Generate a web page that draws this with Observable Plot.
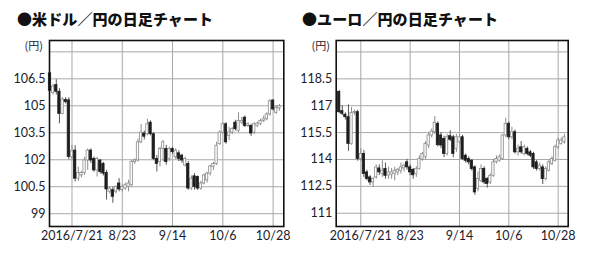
<!DOCTYPE html>
<html><head><meta charset="utf-8">
<script src="https://cdn.jsdelivr.net/npm/d3@7"></script>
<script src="https://cdn.jsdelivr.net/npm/@observablehq/plot@0.6"></script>
<style>
body{margin:0;background:#fff;}
#wrap{position:relative;width:593px;height:268px;overflow:hidden;background:#fff;}
.panel{position:absolute;top:0;}
.title{position:absolute;top:10px;z-index:2;font-family:"Noto Sans CJK JP",sans-serif;font-weight:900;font-size:15px;line-height:18px;color:#111;white-space:nowrap;letter-spacing:0.1px;}
.unit{position:absolute;top:38px;z-index:2;font-family:"Noto Sans CJK JP",sans-serif;font-size:11px;line-height:14px;color:#1c1c2c;}
</style></head><body>
<div id="wrap">
  <div id="p1" class="panel" style="left:0"></div>
  <div id="p2" class="panel" style="left:290px"></div>
  <div class="title" style="left:17px">●米ドル／円の日足チャート</div>
  <div class="title" style="left:302px">●ユーロ／円の日足チャート</div>
  <div class="unit" style="right:550px">(円)</div>
  <div class="unit" style="right:263px">(円)</div>
</div>
<script>
// ---- USD/JPY daily candles ----
const usdOpen  = [106.80,105.72,106.15,105.78,104.55,105.33,105.30,102.14,102.51,100.95,101.13,101.26,101.96,102.51,102.05,101.41,101.96,101.77,101.26,100.22,100.31,100.22,100.68,100.31,100.40,100.49,100.58,101.87,101.96,102.97,103.46,103.42,104.06,103.42,102.05,101.87,102.60,102.60,102.05,102.60,102.14,102.36,102.23,101.68,101.77,100.40,101.08,101.04,100.40,100.68,100.86,101.23,101.59,101.77,102.87,103.51,103.97,103.33,103.51,104.06,103.61,104.06,104.34,103.88,103.88,103.51,103.88,103.97,104.16,104.25,104.52,105.29,104.61,104.85];
const usdHigh  = [106.85,106.20,106.45,105.95,105.45,105.45,105.45,102.80,102.78,101.59,101.35,102.14,102.60,102.60,102.15,102.14,102.00,101.85,101.41,100.50,100.49,100.55,100.95,100.60,100.70,100.86,101.95,102.05,103.15,103.97,103.60,104.25,104.16,103.50,102.23,102.70,103.06,102.80,102.70,102.70,102.60,102.50,102.30,102.15,101.90,101.10,101.23,101.10,100.80,101.20,101.30,101.70,101.85,102.97,103.60,104.06,104.06,103.79,103.79,104.20,104.61,104.34,104.43,104.06,103.97,104.06,104.10,104.25,104.43,104.61,105.35,105.35,104.98,105.07];
const usdLow   = [105.80,105.60,105.60,104.00,104.50,105.10,102.00,101.96,100.77,100.80,101.00,101.13,101.41,101.80,101.30,101.04,101.20,101.10,99.76,100.10,99.58,100.10,100.22,100.20,100.30,100.22,100.50,101.75,101.87,102.90,103.10,103.33,103.33,101.95,101.32,101.60,101.90,101.70,101.90,102.30,102.00,101.90,101.80,101.60,100.30,100.30,100.31,100.30,100.30,100.60,100.70,101.10,101.40,101.68,102.80,103.42,102.87,103.06,103.40,103.60,103.50,103.97,103.79,103.79,103.30,103.40,103.80,103.90,104.06,104.16,104.43,104.71,104.52,104.70];
const usdClose = [105.84,106.07,105.78,104.55,105.35,105.20,102.15,102.47,100.95,101.26,101.26,101.96,102.51,101.96,101.41,102.05,101.32,101.23,100.35,100.40,99.94,100.49,100.35,100.49,100.58,100.68,101.87,101.96,102.97,103.51,103.28,103.97,103.42,102.05,101.77,102.60,102.97,101.87,102.60,102.42,102.51,102.05,101.96,102.05,100.40,100.95,100.49,100.40,100.68,101.13,101.23,101.63,101.77,102.78,103.51,103.97,102.97,103.51,103.70,103.70,104.16,104.16,103.88,103.97,103.46,103.97,104.01,104.16,104.25,104.52,105.25,104.80,104.89,104.98];

// ---- EUR/JPY daily candles ----
const eurOpen  = [117.77,116.70,116.50,116.36,114.85,116.60,116.64,114.03,114.31,113.28,113.00,112.72,113.00,113.50,113.20,113.47,113.10,113.15,113.20,113.28,113.37,113.50,113.84,113.56,113.42,113.19,113.47,114.00,114.12,114.78,115.34,115.52,115.99,115.34,115.15,114.31,115.30,115.24,114.59,114.96,115.24,114.21,114.03,113.93,113.56,112.35,112.81,113.47,112.91,112.72,113.09,113.84,113.93,114.03,115.34,115.99,115.24,115.52,114.40,114.68,114.31,114.59,114.40,114.31,113.84,113.47,113.56,112.91,113.37,113.75,113.93,114.68,114.87,114.96];
const eurHigh  = [117.85,117.00,116.60,117.05,116.90,116.75,116.75,114.60,114.50,113.40,113.10,113.00,113.70,113.70,113.93,113.80,113.56,113.50,113.56,113.50,113.80,113.75,114.00,113.70,113.50,113.60,114.20,114.40,115.00,115.50,115.70,116.40,116.10,115.50,115.30,115.40,115.60,115.35,115.40,115.40,115.35,114.30,114.15,114.00,113.65,113.30,113.70,113.60,113.00,113.20,114.00,114.20,114.25,115.40,116.30,116.10,115.80,115.65,114.80,115.00,114.80,114.70,114.50,114.40,113.95,113.80,113.70,113.60,113.95,114.15,114.80,115.20,115.20,115.40];
const eurLow   = [116.55,116.45,116.20,114.45,114.80,116.45,113.90,113.90,113.00,112.80,112.55,112.44,112.90,113.10,113.00,112.90,112.90,112.90,112.81,113.10,113.20,113.30,113.40,113.10,112.90,113.00,113.40,113.90,114.00,114.60,115.20,115.40,114.70,114.60,114.10,114.20,115.00,114.10,114.40,114.85,113.95,113.80,113.70,113.35,112.00,112.20,112.70,112.60,112.40,112.60,113.00,113.75,113.85,113.95,115.20,115.10,115.10,114.30,114.20,114.30,114.20,114.20,114.10,113.45,113.35,113.35,112.60,112.80,113.30,113.65,113.85,114.55,114.80,114.85];
const eurClose = [116.64,116.55,116.36,114.87,116.60,116.65,114.03,114.31,113.19,112.91,112.72,112.91,113.56,113.28,113.37,113.09,113.28,113.28,113.37,113.42,113.56,113.65,113.56,113.28,113.12,113.47,114.03,114.31,114.87,115.34,115.56,116.05,114.80,114.78,114.31,115.24,115.10,114.31,115.24,115.24,114.03,113.93,113.84,113.47,112.16,112.91,113.47,112.72,112.63,113.09,113.84,114.03,114.12,115.34,115.99,115.24,115.52,114.40,114.60,114.40,114.68,114.31,114.21,113.56,113.47,113.65,112.91,113.47,113.84,114.03,114.68,115.06,115.06,115.24];

// ---- axes ----
const tickIndex  = [7, 23, 39, 55, 71];
const tickLabels = ["2016/7/21", "8/23", "9/14", "10/6", "10/28"];
const usdYTicks  = [99, 100.5, 102, 103.5, 105, 106.5];
const usdYGrid   = [99, 100.5, 102, 103.5, 105, 106.5, 108];
const eurYTicks  = [111, 112.5, 114, 115.5, 117, 118.5];
const eurYGrid   = [111, 112.5, 114, 115.5, 117, 118.5, 120];

function candles(open, high, low, close) {
  return open.map((o, i) => ({i, open: o, high: high[i], low: low[i], close: close[i], up: close[i] >= o}));
}

function panel(data, o) {
  const up = data.filter(d => d.up), dn = data.filter(d => !d.up);
  const w = 0.37;
  return Plot.plot({
    width: o.width, height: 268,
    marginTop: 40, marginBottom: 42, marginLeft: o.marginLeft, marginRight: o.marginRight,
    style: {fontFamily: "'Liberation Sans Narrow', Lato, sans-serif", fontSize: "12.5px", color: "#1c1c2c", background: "transparent"},
    x: {type: "linear", domain: o.xDomain, ticks: tickIndex, tickFormat: d => tickLabels[tickIndex.indexOf(d)], tickSize: 0, tickPadding: 5, label: null},
    y: {domain: o.yDomain, ticks: o.yTicks, tickFormat: d => String(d), tickSize: 0, tickPadding: 4, label: null},
    marks: [
      Plot.ruleY(o.yGrid, {stroke: "#a8a8a8", strokeWidth: 1}),
      Plot.ruleX(tickIndex, {stroke: "#a8a8a8", strokeWidth: 1}),
      Plot.ruleX(up, {x: "i", y1: "low", y2: "high", stroke: "#8c8c8c", strokeWidth: 1}),
      Plot.ruleX(dn, {x: "i", y1: "low", y2: "high", stroke: "#555", strokeWidth: 1}),
      Plot.rect(up, {x1: d => d.i - w, x2: d => d.i + w, y1: "open", y2: "close", fill: "#fff", stroke: "#8c8c8c", strokeWidth: 0.8}),
      Plot.rect(dn, {x1: d => d.i - w, x2: d => d.i + w, y1: "open", y2: "close", fill: "#1e1e1e", stroke: "#1e1e1e", strokeWidth: 0.8}),
      Plot.frame({stroke: "#111", strokeWidth: 1.6})
    ]
  });
}

document.getElementById("p1").appendChild(panel(candles(usdOpen, usdHigh, usdLow, usdClose), {
  width: 290, marginLeft: 49, marginRight: 6.7,
  xDomain: [-0.16, 74.4], yDomain: [98.29, 108.63], yTicks: usdYTicks, yGrid: usdYGrid
}));
document.getElementById("p2").appendChild(panel(candles(eurOpen, eurHigh, eurLow, eurClose), {
  width: 303, marginLeft: 45.7, marginRight: 25.3,
  xDomain: [-0.97, 74.25], yDomain: [110.26, 120.64], yTicks: eurYTicks, yGrid: eurYGrid
}));
</script>
</body></html>
